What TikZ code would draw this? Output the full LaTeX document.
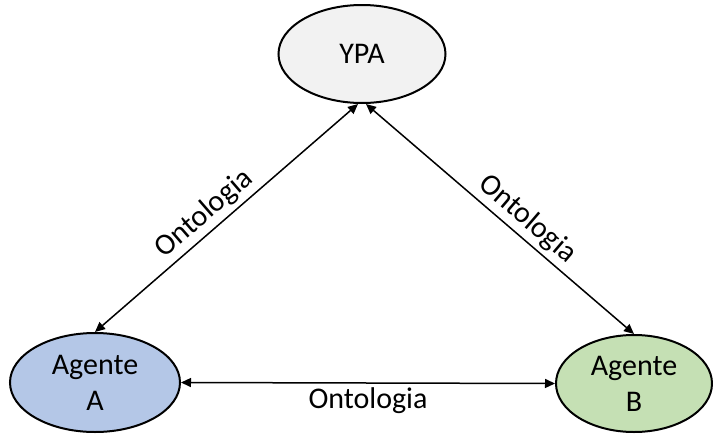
\documentclass[tikz,border=0pt]{standalone}
\usepackage{fontspec}
\setmainfont{Carlito}
\usetikzlibrary{shapes.geometric,arrows.meta}
\definecolor{ypafill}{HTML}{F2F2F2}
\definecolor{agentAfill}{HTML}{B4C7E7}
\definecolor{agentBfill}{HTML}{C5E0B4}
\begin{document}
\begin{tikzpicture}[x=0.5pt,y=-0.5pt,
  agent/.style={ellipse, draw=black, line width=1pt, inner sep=0pt, align=center,
    font=\fontsize{15}{18}\selectfont},
  link/.style={{Triangle[length=5pt,width=4.5pt]}-{Triangle[length=5pt,width=4.5pt]},
    line width=0.75pt},
  lbl/.style={font=\fontsize{15}{18}\selectfont, inner sep=2pt}]
\useasboundingbox (0,0) rectangle (713,434);
% the three participants
\node[agent, fill=ypafill, minimum width=83.5pt, minimum height=49pt] (ypa) at (362,54) {YPA};
\node[agent, fill=agentAfill, minimum width=85pt, minimum height=49.5pt] (a) at (95,382.5) {Agente\\A};
\node[agent, fill=agentBfill, minimum width=78pt, minimum height=48.5pt] (b) at (634,383.5) {Agente\\B};
% shared-ontology links
\draw[link] ([xshift=-2pt]ypa.south) -- node[lbl, sloped, above, pos=0.54] {Ontologia} (a.north);
\draw[link] ([xshift=2pt]ypa.south) -- node[lbl, sloped, above, pos=0.56] {Ontologia} (b.north);
\draw[link] (a.east) -- node[lbl, below] {Ontologia} (b.west);
\end{tikzpicture}
\end{document}
